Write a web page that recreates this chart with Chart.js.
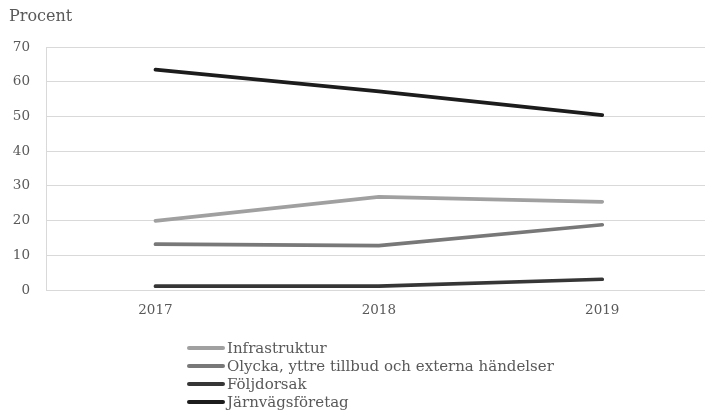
<!DOCTYPE html>
<html>
<head>
<meta charset="utf-8">
<script src="https://cdn.jsdelivr.net/npm/chart.js@4/dist/chart.umd.min.js"></script>
<style>
  html, body { margin: 0; padding: 0; background: #fff; }
  #wrap { position: relative; width: 705px; height: 417px; }
  #chart { position: absolute; left: 0; top: 0; }
  #legend { position: absolute; left: 187px; top: 339px; font-family: "DejaVu Serif", serif; font-size: 15px; color: #595959; }
  #legend .item { height: 18px; line-height: 18px; display: flex; align-items: center; white-space: nowrap; }
  #legend .swatch { width: 38px; height: 4px; border-radius: 2px; margin-right: 2px; }
</style>
</head>
<body>
<div id="wrap">
  <canvas id="chart" width="705" height="417"></canvas>
  <div id="legend"></div>
</div>
<script>
// Years on the horizontal axis
const years = [2017, 2018, 2019];

// Share of cases per cause category (percent)
const infrastruktur = [19.9, 26.8, 25.4];
const olycka = [13.2, 12.8, 18.8];
const foljdorsak = [1.1, 1.1, 3.1];
const jarnvagsforetag = [63.5, 57.2, 50.4];

const seriesNames = [
  'Infrastruktur',
  'Olycka, yttre tillbud och externa händelser',
  'Följdorsak',
  'Järnvägsföretag'
];
const seriesValues = [infrastruktur, olycka, foljdorsak, jarnvagsforetag];
const seriesColors = ['#a0a0a0', '#787878', '#363636', '#1c1c1c'];

const yTicks = [0, 10, 20, 30, 40, 50, 60, 70];

const FONT = '"DejaVu Serif", serif';
const TEXT = '#595959';
const GRID = '#d9d9d9';

const datasets = seriesNames.map((name, i) => ({
  label: name,
  data: years.map((yr, j) => ({ x: yr, y: seriesValues[i][j] })),
  borderColor: seriesColors[i],
  backgroundColor: seriesColors[i],
  borderWidth: 3.7,
  borderCapStyle: 'round',
  pointRadius: 0,
  pointHoverRadius: 0,
  tension: 0
}));

// Axis caption above the value axis
const captionPlugin = {
  id: 'caption',
  afterDraw(chart) {
    const ctx = chart.ctx;
    ctx.save();
    ctx.font = '16px ' + FONT;
    ctx.fillStyle = TEXT;
    ctx.textAlign = 'left';
    ctx.textBaseline = 'middle';
    ctx.fillText('Procent', 9, 17);
    ctx.restore();
  }
};

const chart = new Chart(document.getElementById('chart'), {
  type: 'line',
  data: { datasets },
  options: {
    responsive: false,
    animation: false,
    layout: { padding: { top: 47, right: 0, bottom: 97, left: 0 } },
    plugins: {
      legend: { display: false },
      tooltip: { enabled: false }
    },
    scales: {
      x: {
        type: 'linear',
        min: 2016.51,
        max: 2019.46,
        afterFit(s) { s.height = 30; },
        afterBuildTicks(s) { s.ticks = years.map(v => ({ value: v })); },
        grid: { display: false, drawTicks: false },
        border: { display: true, color: GRID, width: 1 },
        ticks: {
          includeBounds: false,
          padding: 12,
          maxRotation: 0,
          color: TEXT,
          font: { family: FONT, size: 13.5 },
          callback: v => String(v)
        }
      },
      y: {
        min: 0,
        max: 70,
        afterFit(s) { s.width = 46; },
        afterBuildTicks(s) { s.ticks = yTicks.map(v => ({ value: v })); },
        grid: { color: GRID, lineWidth: 1, drawTicks: false },
        border: { display: true, color: GRID, width: 1 },
        ticks: {
          padding: 16,
          color: TEXT,
          font: { family: FONT, size: 13.5 }
        }
      }
    }
  },
  plugins: [captionPlugin]
});

// Vertical legend below the plot
const legend = document.getElementById('legend');
chart.data.datasets.forEach(ds => {
  const item = document.createElement('div');
  item.className = 'item';
  const sw = document.createElement('span');
  sw.className = 'swatch';
  sw.style.background = ds.borderColor;
  const txt = document.createElement('span');
  txt.textContent = ds.label;
  item.appendChild(sw);
  item.appendChild(txt);
  legend.appendChild(item);
});
</script>
</body>
</html>
